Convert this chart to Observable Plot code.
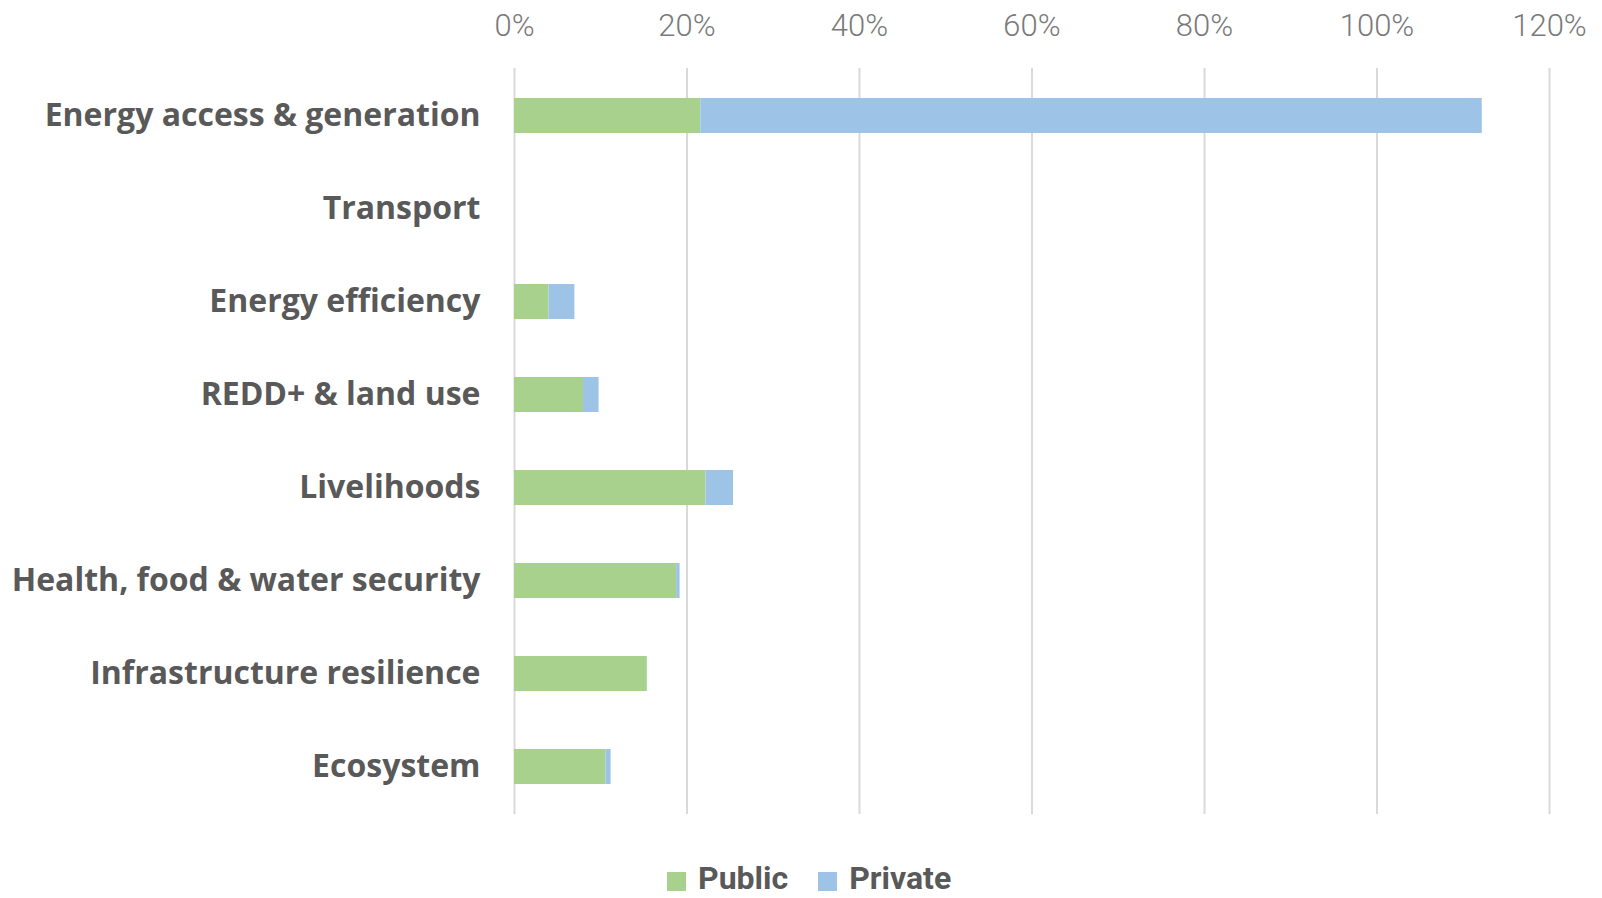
<!DOCTYPE html>
<html>
<head>
<meta charset="utf-8">
<script src="https://cdn.jsdelivr.net/npm/d3@7"></script>
<script src="https://cdn.jsdelivr.net/npm/@observablehq/plot@0.6"></script>
<style>
  html, body { margin: 0; padding: 0; background: #ffffff; overflow: hidden; }
  #chart svg { display: block; }
  #legend {
    position: absolute; left: 667px; top: 859px; height: 38px;
    display: flex; align-items: center;
    font-family: Roboto, sans-serif; line-height: normal;
    font-weight: 700; font-size: 32px; color: #595959;
  }
  #legend .item { display: flex; align-items: center; margin-right: 30px; }
  #legend .sw { width: 19px; height: 19px; margin-right: 12px; margin-top: 6px; }
</style>
</head>
<body>
<div id="chart"></div>
<div id="legend"></div>
<script>
const categories = [
  "Energy access & generation",
  "Transport",
  "Energy efficiency",
  "REDD+ & land use",
  "Livelihoods",
  "Health, food & water security",
  "Infrastructure resilience",
  "Ecosystem"
];
const publicShare  = [21.6, 0, 4.0, 8.0, 22.2, 18.8, 15.4, 10.6];
const privateShare = [90.6, 0, 3.0, 1.8, 3.2, 0.4, 0, 0.6];
const xTicks = [0, 20, 40, 60, 80, 100, 120];
const seriesNames = ["Public", "Private"];
const seriesColors = ["#A9D18E", "#9DC3E6"];

const rows = [];
categories.forEach((c, i) => {
  rows.push({category: c, series: "Public", value: publicShare[i]});
  rows.push({category: c, series: "Private", value: privateShare[i]});
});

const chart = Plot.plot({
  width: 1602,
  height: 830,
  marginTop: 68,
  marginBottom: 16,
  marginLeft: 514,
  marginRight: 53,
  style: {fontFamily: "Roboto, sans-serif", background: "#ffffff"},
  x: {domain: [0, 120], ticks: xTicks, tickFormat: d => d + "%"},
  y: {domain: categories, paddingInner: 0.625, paddingOuter: 0.3125},
  color: {domain: seriesNames, range: seriesColors},
  marks: [
    Plot.gridX(xTicks, {stroke: "#d9d9d9", strokeOpacity: 1, strokeWidth: 2}),
    Plot.barX(rows, Plot.stackX({
      x: "value", y: "category", fill: "series", order: seriesNames, inset: 0
    })),
    Plot.axisX({anchor: "top", ticks: xTicks, tickFormat: d => d + "%", tickSize: 0,
      tickPadding: 33, fontSize: 31, fontWeight: 300, fill: "#7a7a7a", label: null}),
    Plot.axisY({tickSize: 0, tickPadding: 34, fontSize: 32, fontWeight: 700,
      fontFamily: "'Open Sans', sans-serif", fill: "#595959", label: null})
  ]
});
document.getElementById("chart").appendChild(chart);

const legend = document.getElementById("legend");
seriesNames.forEach((s, i) => {
  const item = document.createElement("div");
  item.className = "item";
  const sw = document.createElement("div");
  sw.className = "sw";
  sw.style.background = seriesColors[i];
  const t = document.createElement("span");
  t.textContent = s;
  item.appendChild(sw);
  item.appendChild(t);
  legend.appendChild(item);
});
</script>
</body>
</html>
